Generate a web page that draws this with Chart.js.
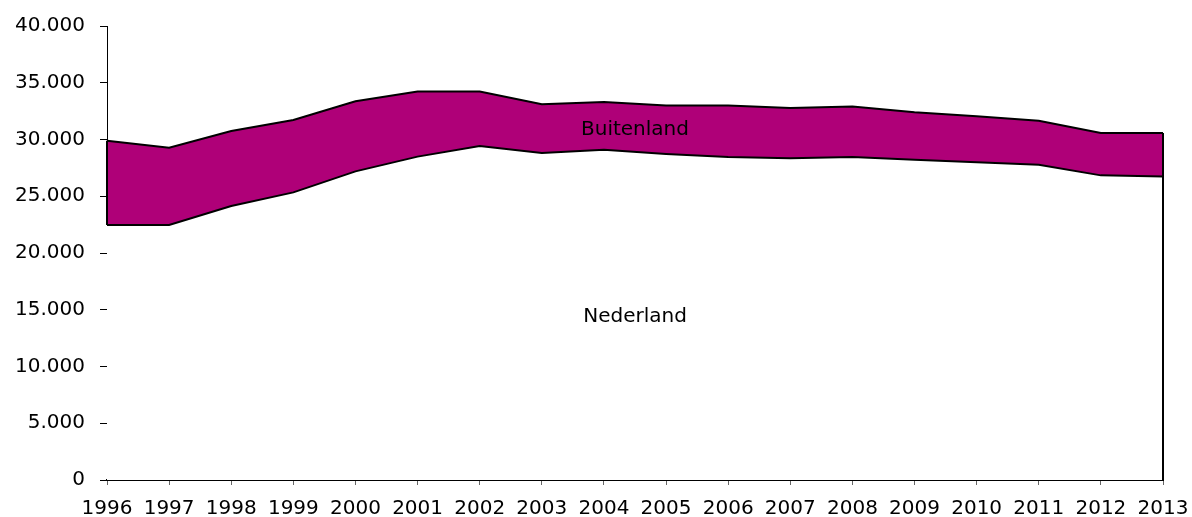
<!DOCTYPE html>
<html>
<head>
<meta charset="utf-8">
<script src="https://cdn.jsdelivr.net/npm/chart.js@4/dist/chart.umd.min.js"></script>
<style>
html,body{margin:0;padding:0;background:#fff;}
#wrap{width:1192px;height:517px;position:relative;}
</style>
</head>
<body>
<div id="wrap"><canvas id="c" width="1192" height="517"></canvas></div>
<script>
const years = ['1996','1997','1998','1999','2000','2001','2002','2003','2004','2005','2006','2007','2008','2009','2010','2011','2012','2013'];
const nederland = [22460,22460,24140,25340,27190,28490,29420,28810,29100,28720,28460,28340,28460,28220,27990,27780,26840,26750];
const totaal    = [29900,29280,30750,31720,33370,34220,34220,33100,33300,33000,32990,32780,32900,32400,32040,31650,30580,30580];
const yTickValues = [0,5000,10000,15000,20000,25000,30000,35000,40000];
const yTickLabels = ['0','5.000','10.000','15.000','20.000','25.000','30.000','35.000','40.000'];
const areaLabels = ['Buitenland','Nederland'];
const areaLabelX = [8.5, 8.5];
const areaLabelY = [30870, 14380];

const FONT = '"DejaVu Sans", Verdana, sans-serif';

const edgePlugin = {
  id: 'edges',
  afterDatasetsDraw(chart) {
    const {ctx, scales:{x, y}} = chart;
    ctx.save();
    ctx.strokeStyle = '#000';
    ctx.lineWidth = 2;
    const last = years.length - 1;
    ctx.beginPath();
    ctx.moveTo(x.getPixelForValue(0), y.getPixelForValue(nederland[0]));
    ctx.lineTo(x.getPixelForValue(0), y.getPixelForValue(totaal[0]));
    ctx.moveTo(x.getPixelForValue(last), y.getPixelForValue(0));
    ctx.lineTo(x.getPixelForValue(last), y.getPixelForValue(totaal[last]));
    ctx.stroke();
    ctx.fillStyle = '#000';
    ctx.font = '20px ' + FONT;
    ctx.textAlign = 'center';
    ctx.textBaseline = 'middle';
    for (let i = 0; i < areaLabels.length; i++) {
      ctx.fillText(areaLabels[i], x.getPixelForValue(areaLabelX[i]), y.getPixelForValue(areaLabelY[i]));
    }
    ctx.restore();
  }
};

new Chart(document.getElementById('c'), {
  type: 'line',
  data: {
    labels: years,
    datasets: [
      {
        label: 'Nederland',
        data: nederland,
        borderColor: '#000',
        borderWidth: 2,
        backgroundColor: '#ffffff',
        fill: 'origin',
        pointRadius: 0,
        tension: 0,
        clip: false
      },
      {
        label: 'Buitenland',
        data: totaal,
        borderColor: '#000',
        borderWidth: 2,
        backgroundColor: '#AF0078',
        fill: '-1',
        pointRadius: 0,
        tension: 0,
        clip: false
      }
    ]
  },
  options: {
    responsive: false,
    animation: false,
    devicePixelRatio: 1,
    layout: { padding: { left: 0, right: 29, top: 26, bottom: 0 } },
    plugins: { legend: { display: false }, tooltip: { enabled: false } },
    scales: {
      x: {
        type: 'category',
        offset: false,
        border: { display: true, color: '#000', width: 2 },
        grid: { display: true, drawOnChartArea: false, drawTicks: true, tickLength: 5, color: '#666' },
        ticks: { color: '#000', font: { family: FONT, size: 20 }, padding: 12, maxRotation: 0, autoSkip: false },
        afterFit(s) { s.height = 37; s.paddingLeft = 0; s.paddingRight = 0; }
      },
      y: {
        min: 0, max: 40000,
        border: { display: true, color: '#000', width: 1 },
        grid: { display: true, drawOnChartArea: false, drawTicks: true, tickLength: 7, color: '#000' },
        afterBuildTicks(s) { s.ticks = yTickValues.map(v => ({ value: v })); },
        ticks: {
          color: '#000', font: { family: FONT, size: 20 }, padding: 15,
          callback(v) { const i = yTickValues.indexOf(v); return i >= 0 ? yTickLabels[i] : ''; }
        },
        afterFit(s) { s.width = 107; s.paddingTop = 0; s.paddingBottom = 0; }
      }
    }
  },
  plugins: [edgePlugin]
});
</script>
</body>
</html>
